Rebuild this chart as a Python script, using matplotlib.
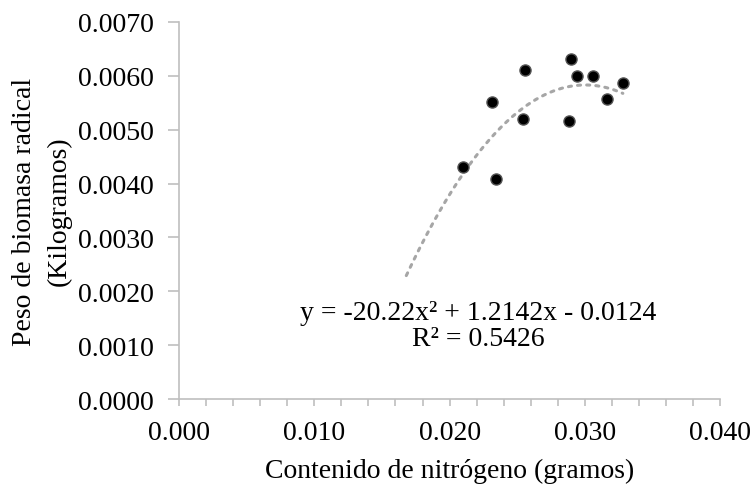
import numpy as np
import matplotlib
matplotlib.use('Agg')
import matplotlib.pyplot as plt
from matplotlib.ticker import MultipleLocator, FormatStrFormatter

plt.rcParams['font.family'] = ['Liberation Serif', 'DejaVu Serif']

# nitrogen content (g) vs root biomass weight (kg)
nitrogen = [0.0210, 0.0234, 0.0231, 0.0256, 0.0254, 0.0288, 0.0290, 0.0294, 0.0306, 0.0316, 0.0328]
biomass = [0.00430, 0.00409, 0.00551, 0.00611, 0.00520, 0.00516, 0.00631, 0.00600, 0.00600, 0.00556, 0.00586]

# polynomial trendline as printed on the chart
coef = [-20.22, 1.2142, -0.0124]
trend_start, trend_end = 0.0168, 0.0328
eq_text = 'y = -20.22x² + 1.2142x - 0.0124'
r2_text = 'R² = 0.5426'

axis_grey = '#bfbfbf'
fs = 20

fig = plt.figure(figsize=(7.55, 4.85), dpi=100)
ax = fig.add_axes([0.237, 0.175, 0.717, 0.778])

xs = np.linspace(trend_start, trend_end, 200)
ax.plot(xs, np.polyval(coef, xs), linestyle=(0, (1, 2)), color='#a6a6a6', lw=2.2,
        dash_capstyle='round', zorder=2)
ax.plot(nitrogen, biomass, 'o', color='black', markersize=8,
        markeredgecolor='#555555', markeredgewidth=1, zorder=3)

ax.set_xlim(0, 0.040)
ax.set_ylim(0, 0.0070)
ax.xaxis.set_major_locator(MultipleLocator(0.010))
ax.xaxis.set_minor_locator(MultipleLocator(0.002))
ax.yaxis.set_major_locator(MultipleLocator(0.0010))
ax.xaxis.set_major_formatter(FormatStrFormatter('%.3f'))
ax.yaxis.set_major_formatter(FormatStrFormatter('%.4f'))

for s in ['top', 'right']:
    ax.spines[s].set_visible(False)
for s in ['left', 'bottom']:
    ax.spines[s].set_color(axis_grey)
    ax.spines[s].set_linewidth(1.2)

ax.tick_params(axis='x', which='both', direction='out', length=5, width=1.2,
               color=axis_grey, labelsize=fs, pad=10)
ax.tick_params(axis='y', which='major', direction='out', length=8, width=1.2,
               color=axis_grey, labelsize=fs, pad=10)

ax.set_xlabel('Contenido de nitrógeno (gramos)', fontsize=fs, labelpad=9)
ax.set_ylabel('Peso de biomasa radical\n(Kilogramos)', fontsize=fs, labelpad=4.5,
              linespacing=1.5)

ax.text(0.0221, 0.00160, eq_text, fontsize=fs, ha='center', va='center')
ax.text(0.0221, 0.00113, r2_text, fontsize=fs, ha='center', va='center')

fig.savefig('out.png', dpi=100)
